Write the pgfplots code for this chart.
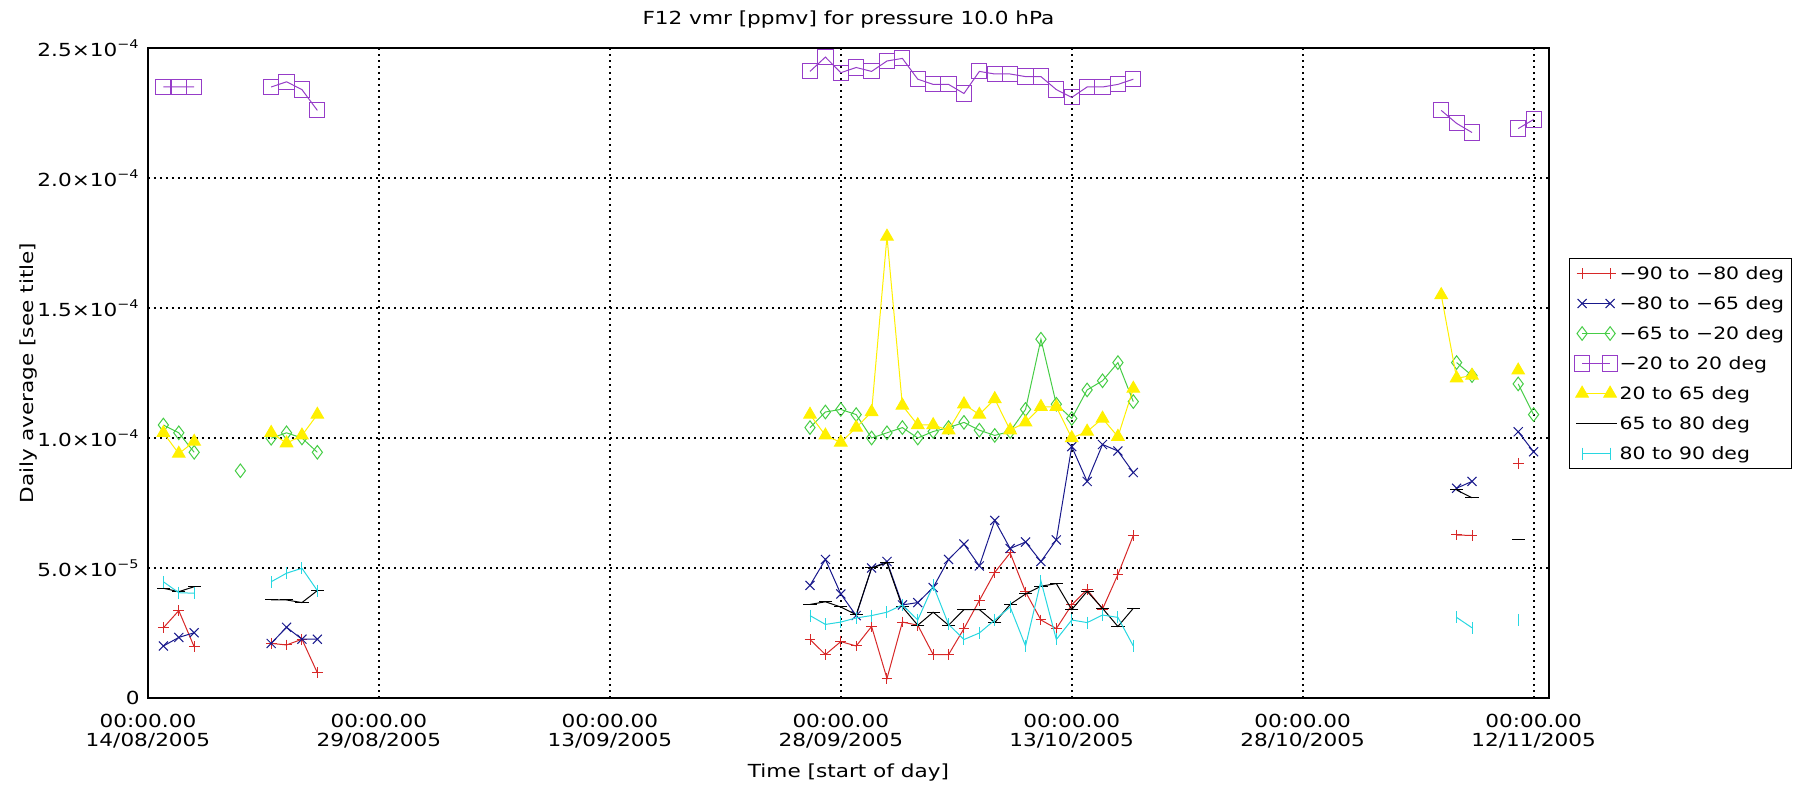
\documentclass[border=0pt]{standalone}
\usepackage{fontspec}
\setmainfont{DejaVu Sans}[FakeStretch=1.2]
\usepackage{pgfplots}
\pgfplotsset{compat=1.18}
\definecolor{myred}{RGB}{215,40,40}
\definecolor{myblue}{RGB}{25,25,140}
\definecolor{mygreen}{RGB}{70,205,70}
\definecolor{mypurple}{RGB}{150,60,200}
\definecolor{myyellow}{RGB}{255,240,0}
\definecolor{mycyan}{RGB}{40,215,225}
\begin{document}
\fontsize{9}{9.5}\selectfont
\begin{tikzpicture}
\useasboundingbox (-74pt,-44.5pt) rectangle (826.5pt,349pt);
\begin{axis}[
  at={(0pt,0pt)}, anchor=south west,
  scale only axis, width=700.5pt, height=325pt,
  xmin=0, xmax=91, ymin=0, ymax=25,
  unbounded coords=jump,
  clip mode=individual,
  axis line style={line width=1pt, black},
  tick style={draw=none},
  grid=major,
  major grid style={black, line width=1pt, dash pattern=on 1pt off 2pt},
  xtick={0,15,30,45,60,75,90},
  xticklabels={{00:00.00\\14/08/2005},{00:00.00\\29/08/2005},{00:00.00\\13/09/2005},{00:00.00\\28/09/2005},{00:00.00\\13/10/2005},{00:00.00\\28/10/2005},{00:00.00\\12/11/2005}},
  xticklabel style={align=center, inner sep=0pt, yshift=-8pt},
  ytick={0,5,10,15,20,25},
  yticklabels={0, 5.0×10\textsuperscript{−5}, 1.0×10\textsuperscript{−4}, 1.5×10\textsuperscript{−4}, 2.0×10\textsuperscript{−4}, 2.5×10\textsuperscript{−4}},
  yticklabel style={inner sep=0pt, xshift=-4pt},
  title={F12 vmr [ppmv] for pressure 10.0 hPa},
  title style={at={(axis description cs:0.5,1.026)}, anchor=center},
  xlabel={Time [start of day]},
  xlabel style={at={(axis description cs:0.5,-0.1154)}, anchor=center},
  ylabel={Daily average [see title]},
  ylabel style={at={(axis description cs:-0.085,0.5)}, anchor=center},
  legend image code/.code={\draw[#1] plot coordinates {(0pt,0pt) (14pt,0pt)};},
  legend cell align=left,
  legend style={at={(1,1)}, anchor=north west, xshift=10pt, yshift=-105pt,
    draw=black, line width=0.5pt, fill=white, inner xsep=2.5pt, inner ysep=0pt,
    row sep=0pt, column sep=0pt, font=\fontsize{8.5}{9.5}\selectfont,
    nodes={inner xsep=1pt, inner ysep=0pt, minimum height=15pt, text depth=0pt}},
]
\addplot[color=myred, line width=0.5pt, mark=+, mark size=2.7pt] coordinates {
(1,2.70)(2,3.36)(3,1.97)(5,nan)(8,2.10)(9,2.04)(10,2.26)(11,0.97)(20,nan)
(43,2.25)(44,1.67)(45,2.17)(46,2.00)(47,2.75)(48,0.75)(49,2.92)(50,2.80)(51,1.67)(52,1.67)
(53,2.67)(54,3.75)(55,4.83)(56,5.58)(57,4.08)(58,3.00)(59,2.67)(60,3.58)(61,4.17)(62,3.42)
(63,4.75)(64,6.25)(70,nan)(85,6.27)(86,6.25)(87,nan)(89,9.03)};
\addlegendentry{−90 to −80 deg}
\addplot[color=myblue, line width=0.5pt, mark=x, mark size=3.2pt] coordinates {
(1,2.00)(2,2.33)(3,2.51)(5,nan)(8,2.10)(9,2.72)(10,2.26)(11,2.26)(20,nan)
(43,4.33)(44,5.33)(45,4.00)(46,3.17)(47,5.00)(48,5.25)(49,3.58)(50,3.67)(51,4.25)(52,5.33)
(53,5.92)(54,5.08)(55,6.83)(56,5.75)(57,6.00)(58,5.25)(59,6.08)(60,9.67)(61,8.33)(62,9.75)
(63,9.50)(64,8.67)(70,nan)(85,8.07)(86,8.33)(87,nan)(89,10.24)(90,9.47)};
\addlegendentry{−80 to −65 deg}
\addplot[color=mygreen, line width=0.5pt, mark=diamond, mark size=3.4pt] coordinates {
(1,10.5)(2,10.2)(3,9.45)(4,nan)(6,8.74)(7,nan)(8,9.99)(9,10.2)(10,10.0)(11,9.45)(20,nan)
(43,10.4)(44,11.0)(45,11.1)(46,10.9)(47,10.0)(48,10.2)(49,10.4)(50,10.0)(51,10.25)(52,10.4)
(53,10.6)(54,10.3)(55,10.1)(56,10.25)(57,11.1)(58,13.8)(59,11.3)(60,10.75)(61,11.85)(62,12.2)
(63,12.9)(64,11.4)(70,nan)(85,12.9)(86,12.4)(87,nan)(89,12.08)(90,10.9)};
\addlegendentry{−65 to −20 deg}
\addplot[color=mypurple, line width=0.5pt, mark=square, mark size=3.8pt] coordinates {
(1,23.5)(2,23.5)(3,23.5)(5,nan)(8,23.5)(9,23.7)(10,23.4)(11,22.6)(20,nan)
(43,24.1)(44,24.65)(45,24.05)(46,24.25)(47,24.1)(48,24.5)(49,24.6)(50,23.8)(51,23.6)(52,23.6)
(53,23.25)(54,24.1)(55,24.0)(56,24.0)(57,23.9)(58,23.9)(59,23.4)(60,23.1)(61,23.5)(62,23.5)
(63,23.6)(64,23.8)(70,nan)(84,22.6)(85,22.1)(86,21.75)(87,nan)(89,21.9)(90,22.25)};
\addlegendentry{−20 to 20 deg}
\addplot[color=myyellow, line width=0.5pt, mark=triangle*, mark size=3.6pt] coordinates {
(1,10.2)(2,9.4)(3,9.86)(5,nan)(8,10.2)(9,9.8)(10,10.1)(11,10.9)(20,nan)
(43,10.9)(44,10.1)(45,9.83)(46,10.4)(47,11.0)(48,17.75)(49,11.25)(50,10.5)(51,10.5)(52,10.3)
(53,11.3)(54,10.9)(55,11.5)(56,10.3)(57,10.6)(58,11.2)(59,11.2)(60,10.0)(61,10.25)(62,10.75)
(63,10.05)(64,11.9)(70,nan)(84,15.5)(85,12.3)(86,12.4)(87,nan)(89,12.6)};
\addlegendentry{20 to 65 deg}
\addplot[color=black, line width=0.5pt, mark=-, mark size=3.3pt] coordinates {
(1,4.22)(2,4.09)(3,4.28)(5,nan)(8,3.77)(9,3.77)(10,3.67)(11,4.13)(20,nan)
(43,3.6)(44,3.7)(45,3.5)(46,3.2)(47,5.0)(48,5.2)(49,3.5)(50,2.8)(51,3.3)(52,2.8)
(53,3.4)(54,3.4)(55,2.9)(56,3.6)(57,4.0)(58,4.3)(59,4.4)(60,3.4)(61,4.1)(62,3.45)
(63,2.75)(64,3.45)(70,nan)(85,8.0)(86,7.7)(87,nan)(89,6.08)};
\addlegendentry{65 to 80 deg}
\addplot[color=mycyan, line width=0.5pt, mark=|, mark size=3pt] coordinates {
(1,4.47)(2,4.05)(3,4.03)(5,nan)(8,4.47)(9,4.8)(10,4.99)(11,4.13)(20,nan)
(43,3.17)(44,2.83)(45,2.92)(46,3.08)(47,3.17)(48,3.3)(49,3.58)(50,3.0)(51,4.33)(52,2.83)
(53,2.25)(54,2.5)(55,3.0)(56,3.5)(57,2.0)(58,4.5)(59,2.25)(60,3.0)(61,2.9)(62,3.19)
(63,3.1)(64,2.0)(70,nan)(85,3.1)(86,2.7)(87,nan)(89,3.0)};
\addlegendentry{80 to 90 deg}
\end{axis}
\end{tikzpicture}
\end{document}
